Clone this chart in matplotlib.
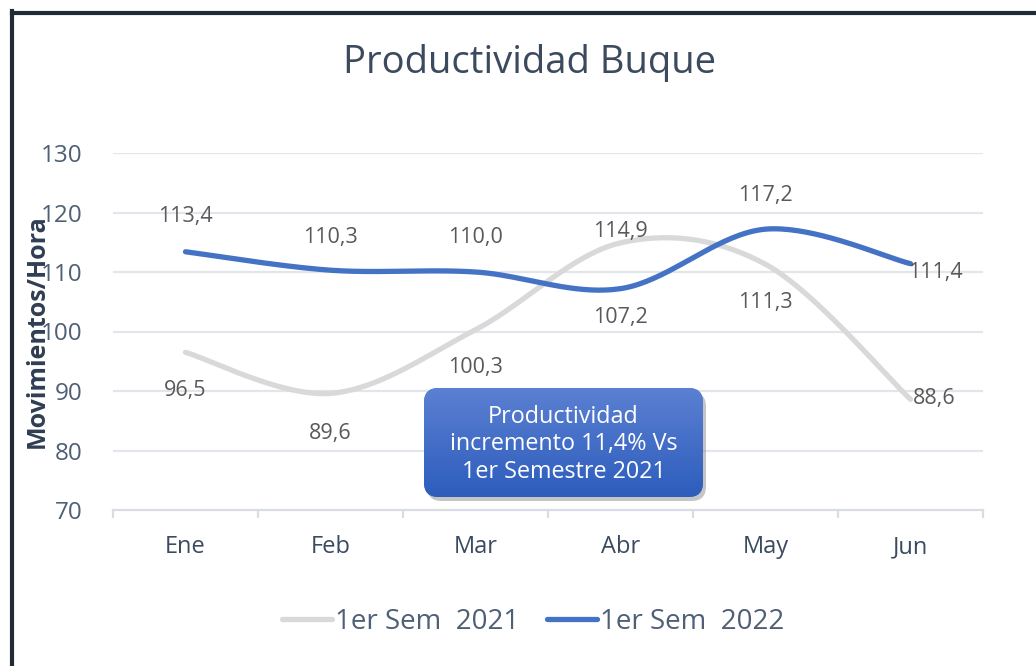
import numpy as np
import matplotlib
matplotlib.use("Agg")
import matplotlib.pyplot as plt
from matplotlib.patches import FancyBboxPatch
from matplotlib.lines import Line2D
from matplotlib.colors import LinearSegmentedColormap

plt.rcParams['font.family'] = ['Open Sans', 'DejaVu Sans']

# datos
meses = ["Ene", "Feb", "Mar", "Abr", "May", "Jun"]
sem_2021 = [96.5, 89.6, 100.3, 114.9, 111.3, 88.6]
sem_2022 = [113.4, 110.3, 110.0, 107.2, 117.2, 111.4]
etiquetas_2021 = ["96,5", "89,6", "100,3", "114,9", "111,3", "88,6"]
etiquetas_2022 = ["113,4", "110,3", "110,0", "107,2", "117,2", "111,4"]
ticks_y = [70, 80, 90, 100, 110, 120, 130]

# desplazamientos de etiquetas (pixeles)
off_2021 = [(0, -38), (0, -40), (0, -38), (0, 11), (0, -38), (24, 1)]
off_2022 = [(0, 35), (0, 33), (0, 35), (0, -29), (0, 34), (25, -9)]

COLOR_2021 = "#d9d9d9"
COLOR_2022 = "#4472c4"


def suavizar(y, n=40):
    # curva tipo Excel (Catmull-Rom con Bezier cubico)
    y = np.asarray(y, dtype=float)
    x = np.arange(len(y), dtype=float)
    pts = np.column_stack([x, y])
    ext = np.vstack([pts[0], pts, pts[-1]])
    xs, ys = [], []
    t = np.linspace(0, 1, n)
    for i in range(len(pts) - 1):
        p0, p1, p2, p3 = ext[i], ext[i + 1], ext[i + 2], ext[i + 3]
        c1 = p1 + (p2 - p0) / 6
        c2 = p2 - (p3 - p1) / 6
        b = ((1 - t) ** 3)[:, None] * p1 + (3 * (1 - t) ** 2 * t)[:, None] * c1 \
            + (3 * (1 - t) * t ** 2)[:, None] * c2 + (t ** 3)[:, None] * p2
        xs.extend(b[:, 0])
        ys.extend(b[:, 1])
    return np.array(xs), np.array(ys)


fig = plt.figure(figsize=(10.36, 6.66), dpi=100)
ax = fig.add_axes([113 / 1036, 1 - 510 / 666, 870 / 1036, 357 / 666])

# marco oscuro
fig.add_artist(Line2D([12 / 1036, 1.0], [1 - 12.5 / 666, 1 - 12.5 / 666],
                      transform=fig.transFigure, color="#222a35", lw=3))
fig.add_artist(Line2D([12 / 1036, 12 / 1036], [0, 1 - 11 / 666],
                      transform=fig.transFigure, color="#222a35", lw=3))

x = np.arange(len(meses))

for v in ticks_y[1:]:
    ax.axhline(v, color="#e2e6ec", lw=1.6, zorder=0)

xs, ys = suavizar(sem_2021)
ax.plot(xs, ys, color=COLOR_2021, lw=3.8, solid_capstyle="round", label="1er Sem  2021", zorder=3)
xs, ys = suavizar(sem_2022)
ax.plot(xs, ys, color=COLOR_2022, lw=3.8, solid_capstyle="round", label="1er Sem  2022", zorder=4)

for i in range(len(meses)):
    ax.annotate(etiquetas_2021[i], (x[i], sem_2021[i]),
                xytext=(off_2021[i][0] * 0.72, off_2021[i][1] * 0.72), textcoords="offset points",
                ha="center", va="center", fontsize=15.5, color="#595959", zorder=5)
    ax.annotate(etiquetas_2022[i], (x[i], sem_2022[i]),
                xytext=(off_2022[i][0] * 0.72, off_2022[i][1] * 0.72), textcoords="offset points",
                ha="center", va="center", fontsize=15.5, color="#595959", zorder=5)

for s in ["top", "right", "left"]:
    ax.spines[s].set_visible(False)
ax.spines["bottom"].set_color("#d9dde3")
ax.spines["bottom"].set_linewidth(1.6)

ax.set_yticks(ticks_y)
ax.set_yticklabels([str(v) for v in ticks_y], fontsize=17.5, color="#4f5f75")
ax.tick_params(axis="y", length=0, pad=22)

ax.set_xticks(x)
ax.set_xticklabels(meses, fontsize=17, color="#3a4a60")
ax.tick_params(axis="x", which="major", length=0, pad=18)
ax.set_xticks(np.arange(-0.5, len(meses)), minor=True)
ax.tick_params(axis="x", which="minor", length=6, width=1.6, color="#d9dde3")

ax.set_ylabel("Movimientos/Hora", fontsize=18, fontweight="bold", color="#2f3e52")
ax.yaxis.set_label_coords(-63 / 870, 0.5)

fig.text(530 / 1036, 1 - 63 / 666, "Productividad Buque", ha="center", va="center",
         fontsize=27.5, color="#3b4a5e")

# cuadro de texto con degradado
bx0, bx1 = (424 - 113) / 145 - 0.5, (703 - 113) / 145 - 0.5
by0, by1 = 130 - (497 - 153) / 5.95, 130 - (388 - 153) / 5.95
asp = 5.95 / 145
sombra = FancyBboxPatch((bx0 + 3 / 145, by0 - 4 / 5.95), bx1 - bx0, by1 - by0,
                        boxstyle="round,pad=0,rounding_size=0.1", mutation_aspect=1 / asp,
                        fc="#7f7f7f", ec="none", alpha=0.45, zorder=6)
ax.add_patch(sombra)
caja = FancyBboxPatch((bx0, by0), bx1 - bx0, by1 - by0,
                      boxstyle="round,pad=0,rounding_size=0.1", mutation_aspect=1 / asp,
                      fc="#4472c4", ec="none", zorder=7)
ax.add_patch(caja)
grad = np.linspace(0, 1, 100)[:, None]
cmap = LinearSegmentedColormap.from_list("caja", ["#5b80d2", "#2d5dbd"])
img = ax.imshow(grad, extent=(bx0, bx1, by0, by1), origin="upper", cmap=cmap,
                aspect="auto", zorder=7.5)
img.set_clip_path(caja)
ax.text((bx0 + bx1) / 2, (by0 + by1) / 2 - 0.3, "Productividad\nincremento 11,4% Vs\n1er Semestre 2021",
        ha="center", va="center", fontsize=16.8, color="white", linespacing=1.2, zorder=8)
ax.set_xlim(-0.5, len(meses) - 0.5)
ax.set_ylim(70, 130)

leg = fig.legend(loc="center", bbox_to_anchor=(533 / 1036, 1 - 622 / 666), ncol=2, frameon=False,
                 fontsize=20, handlelength=1.8, handletextpad=0.1, columnspacing=1.0)
for t in leg.get_texts():
    t.set_color("#4f5f75")

fig.savefig("out.png", dpi=100)
